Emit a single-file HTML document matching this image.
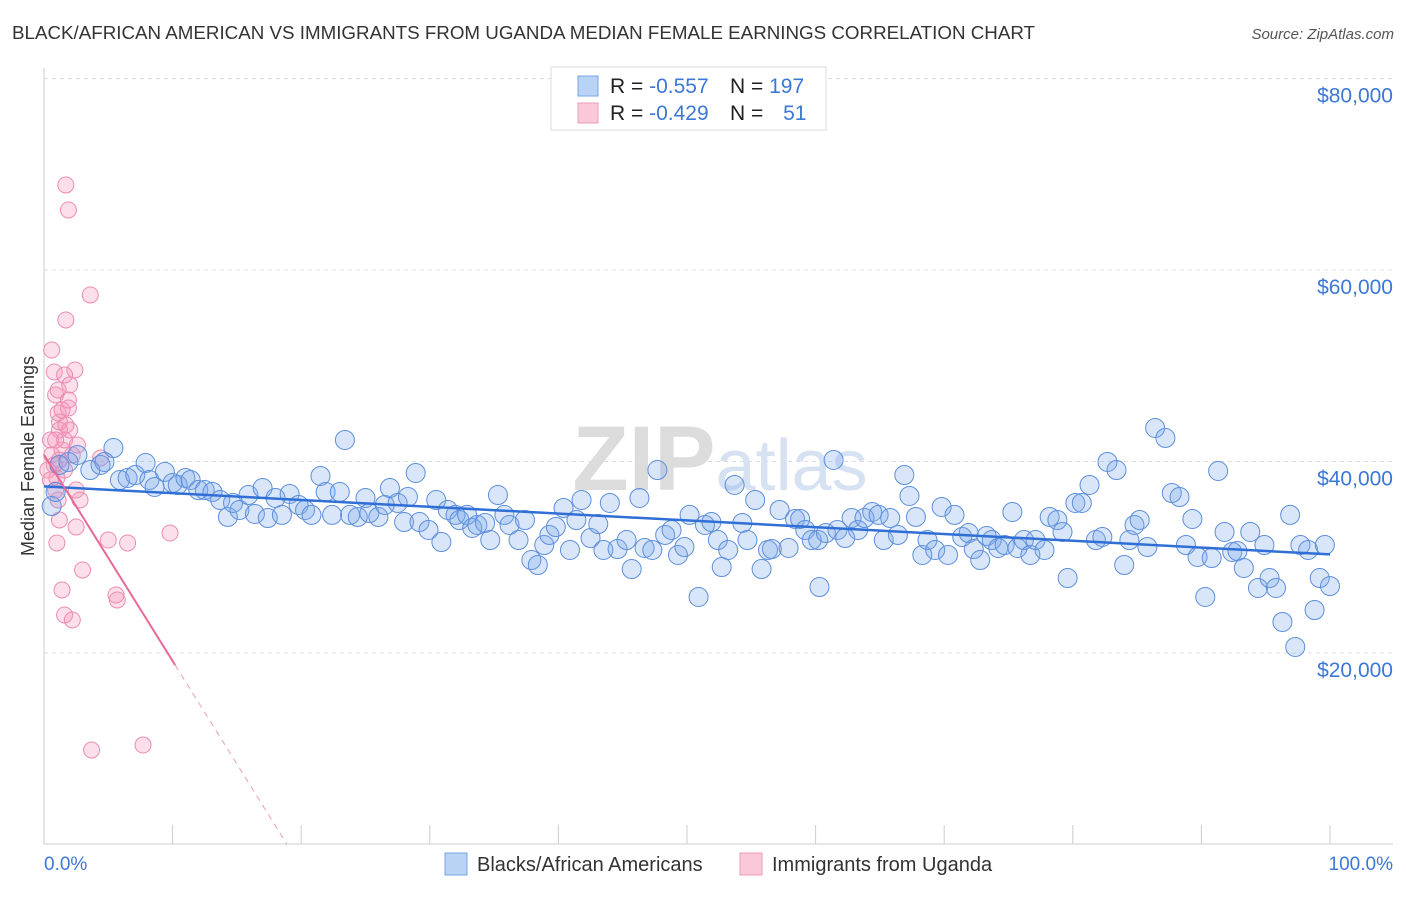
<!DOCTYPE html>
<html><head><meta charset="utf-8"><style>
body{margin:0;background:#fff;font-family:"Liberation Sans",sans-serif;}
svg text{font-family:"Liberation Sans",sans-serif;}
</style></head><body>
<svg id="chart" width="1406" height="892" xmlns="http://www.w3.org/2000/svg">
<text x="12" y="39" font-size="18" fill="#333" textLength="1023" lengthAdjust="spacingAndGlyphs">BLACK/AFRICAN AMERICAN VS IMMIGRANTS FROM UGANDA MEDIAN FEMALE EARNINGS CORRELATION CHART</text>
<text x="1394" y="39" font-size="15" fill="#555" font-style="italic" text-anchor="end">Source: ZipAtlas.com</text>
<text x="720" y="490" font-size="92" fill="#e6e6e6" text-anchor="middle" font-family="Liberation Serif"><tspan font-weight="bold" fill="#dcdcdc">ZIP</tspan><tspan fill="#d6e2f2" font-family="Liberation Sans" font-size="72">atlas</tspan></text>
<g id="grid"></g>
<g id="axes"></g>
<g id="pink"></g>
<g id="blue"></g>
<g id="trend"></g>
<text transform="translate(34,456) rotate(-90)" font-size="18" fill="#333" text-anchor="middle">Median Female Earnings</text>
<g>
<rect x="551" y="67" width="275" height="63" fill="#fff" stroke="#ddd"/>
<rect x="578" y="76" width="20" height="20" fill="#b9d3f5" stroke="#7aa6e6"/>
<rect x="578" y="103" width="20" height="20" fill="#fac8d8" stroke="#ee9bb8"/>
<text x="610" y="93" font-size="21" fill="#222">R = <tspan fill="#3b78d8">-0.557</tspan></text>
<text x="730" y="93" font-size="21" fill="#222">N = <tspan fill="#3b78d8">197</tspan></text>
<text x="610" y="120" font-size="21" fill="#222">R = <tspan fill="#3b78d8">-0.429</tspan></text>
<text x="730" y="120" font-size="21" fill="#222">N = <tspan fill="#3b78d8" dx="14">51</tspan></text>
</g>
<g>
<rect x="445" y="853" width="22" height="22" fill="#b9d3f5" stroke="#7aa6e6"/>
<text x="477" y="871" font-size="20" fill="#333">Blacks/African Americans</text>
<rect x="740" y="853" width="22" height="22" fill="#fac8d8" stroke="#ee9bb8"/>
<text x="772" y="871" font-size="20" fill="#333">Immigrants from Uganda</text>
</g>
<text x="44" y="870" font-size="19" fill="#3b78d8">0.0%</text>
<text x="1393" y="870" font-size="19" fill="#3b78d8" text-anchor="end">100.0%</text>
</svg>
<script>
const yTicks=[20000,40000,60000,80000];
const yTickLabels=["$20,000","$40,000","$60,000","$80,000"];
const blueX=[0.6,0.9,1.2,1.9,2.6,3.6,4.4,5.4,4.7,5.9,6.5,7.1,7.9,8.2,8.6,9.4,10.0,10.4,11.0,11.4,12.0,12.5,13.1,13.7,14.3,14.7,15.2,15.9,16.4,17.0,17.4,18.0,18.5,19.1,19.8,20.3,20.8,21.5,21.9,22.4,23.0,23.4,23.8,24.4,25.0,25.3,26.0,26.5,26.9,27.5,28.0,28.3,28.9,29.2,29.9,30.5,30.9,31.4,32.0,32.3,32.9,33.3,33.7,34.3,34.7,35.3,35.8,36.2,36.9,37.4,37.9,38.4,38.9,39.3,39.8,40.4,40.9,41.4,41.8,42.5,43.1,43.5,44.0,44.6,45.3,45.7,46.3,46.7,47.3,47.7,48.3,48.8,49.3,49.8,50.2,50.9,51.4,51.9,52.4,52.7,53.2,53.7,54.3,54.7,55.3,55.8,56.3,56.6,57.2,57.9,58.4,58.8,59.2,59.7,60.2,60.3,60.8,61.4,61.7,62.3,62.8,63.3,63.8,64.4,64.9,65.3,65.8,66.4,66.9,67.3,67.8,68.3,68.7,69.3,69.8,70.3,70.8,71.4,71.9,72.3,72.8,73.3,73.7,74.2,74.7,75.3,75.7,76.2,76.7,77.1,77.8,78.2,78.8,79.2,79.6,80.2,80.7,81.3,81.8,82.3,82.7,83.4,84.0,84.4,84.8,85.2,85.8,86.4,87.2,87.7,88.3,88.8,89.3,89.7,90.3,90.8,91.3,91.8,92.4,92.8,93.3,93.8,94.4,94.9,95.3,95.8,96.3,96.9,97.3,97.7,98.3,98.8,99.2,99.6,100];
const blueY=[35350,36820,39640,39950,40680,39110,39640,41410,39950,38070,38280,38590,39840,38070,37340,38910,37760,37550,38280,38070,37020,37020,36820,35980,34210,35670,34940,36500,34520,37230,34100,36190,34420,36610,35460,34940,34420,38490,36820,34420,36820,42250,34420,34210,36190,34620,34210,35460,37230,35670,33680,36290,38800,33680,32850,35980,31590,34940,34420,33890,34420,33060,33370,33580,31800,36500,34420,33370,31800,33890,29710,29190,31280,32330,33160,35150,30760,33890,35980,32010,33470,30760,35670,30860,31800,28770,36190,30970,30760,39110,32330,32850,30240,31070,34420,25850,33370,33680,31800,28980,30760,37550,33580,31800,35980,28770,30760,30860,34940,30970,34000,34000,32850,31800,31800,26890,32530,40160,32850,32010,34100,32850,34100,34730,34420,31800,34100,32330,38590,36400,34210,30240,31800,30760,35250,30240,34420,32120,32530,30860,29710,32220,31800,30970,31280,34730,30970,31800,30240,31800,30760,34210,33890,32640,27830,35670,35670,37550,31800,32120,39950,39110,29190,31800,33370,33890,31070,43500,42460,36710,36290,31280,34000,30030,25850,29920,39010,32640,30550,30650,28880,32640,26790,31280,27830,26790,23240,34420,20630,31280,30760,24490,27830,31280,26990];
const pinkX=[0.6,0.8,0.9,1.1,1.2,1.4,1.6,1.7,1.9,1.7,2.0,1.9,1.6,1.2,1.0,0.9,1.1,1.2,1.0,1.4,1.6,2.2,2.5,2.8,3.0,3.6,3.7,4.4,5.0,5.6,5.7,6.5,7.7,9.8,2.4,1.6,0.5,0.6,0.8,0.3,0.9,1.2,1.4,1.7,2.0,2.2,2.6,2.5,0.5,1.1,1.9];
const pinkY=[51640,49350,46950,45070,43290,41200,39110,68880,66270,54780,47990,45590,42250,40160,38280,37020,35980,33890,31490,26580,23970,23450,33160,35980,28670,57390,9870,40370,31800,26060,25540,31490,10390,32530,49560,49030,42250,40680,39640,39110,42250,44130,45380,43810,43290,40680,41720,37020,38070,47470,46420];
const blueTrend=[37400,30300];
const pinkTrend=[40700,-2153];
const NS="http://www.w3.org/2000/svg";
const X=v=>44+v*12.86, Y=v=>844.5-v/20000*191.5;
function mk(tag,attrs,parent){const e=document.createElementNS(NS,tag);for(const k in attrs)e.setAttribute(k,attrs[k]);parent.appendChild(e);return e;}
const grid=document.getElementById('grid'),axes=document.getElementById('axes');
yTicks.forEach((t,i)=>{
  const l=mk('line',{x1:44,x2:1393,y1:Y(t),y2:Y(t),stroke:'#ddd','stroke-dasharray':'4,4'},grid);
  
  
  const tx=mk('text',{x:1393,y:Y(t)+24,'font-size':21,fill:'#3b78d8','text-anchor':'end'},axes);
  tx.textContent=yTickLabels[i];
  
  
});
const ax=mk('line',{x1:44,x2:1393,y1:844,y2:844,stroke:'#ccc'},axes);


const ay=mk('line',{x1:44,x2:44,y1:68,y2:844,stroke:'#ccc'},axes);


for(let i=0;i<=10;i++){const t=mk('line',{x1:X(i*10),x2:X(i*10),y1:825,y2:844,stroke:'#ccc'},axes);
  
  }
const pg=document.getElementById('pink');
pinkX.forEach((x,i)=>{const c=mk('circle',{cx:X(x),cy:Y(pinkY[i]),r:8,fill:'rgba(244,150,185,0.3)',stroke:'#ec8db0','stroke-width':1},pg);
  
  });
const bg=document.getElementById('blue');
blueX.forEach((x,i)=>{const c=mk('circle',{cx:X(x),cy:Y(blueY[i]),r:9.5,fill:'rgba(120,165,235,0.28)',stroke:'#5d8fdc','stroke-width':1},bg);
  
  });
const tg=document.getElementById('trend');
const bl=mk('line',{x1:X(0),y1:Y(blueTrend[0]),x2:X(100),y2:Y(blueTrend[1]),stroke:'#2f6fd6','stroke-width':2.5},tg);


const xs=10.2, x0=-pinkTrend[0]/pinkTrend[1];
const p1=mk('line',{x1:X(0),y1:Y(pinkTrend[0]),x2:X(xs),y2:Y(pinkTrend[0]+pinkTrend[1]*xs),stroke:'#e8689a','stroke-width':2},tg);


const p2=mk('line',{x1:X(xs),y1:Y(pinkTrend[0]+pinkTrend[1]*xs),x2:X(x0),y2:Y(0),stroke:'#e8a0bb','stroke-width':1,'stroke-dasharray':'6,5'},tg);


</script>
</body></html>
